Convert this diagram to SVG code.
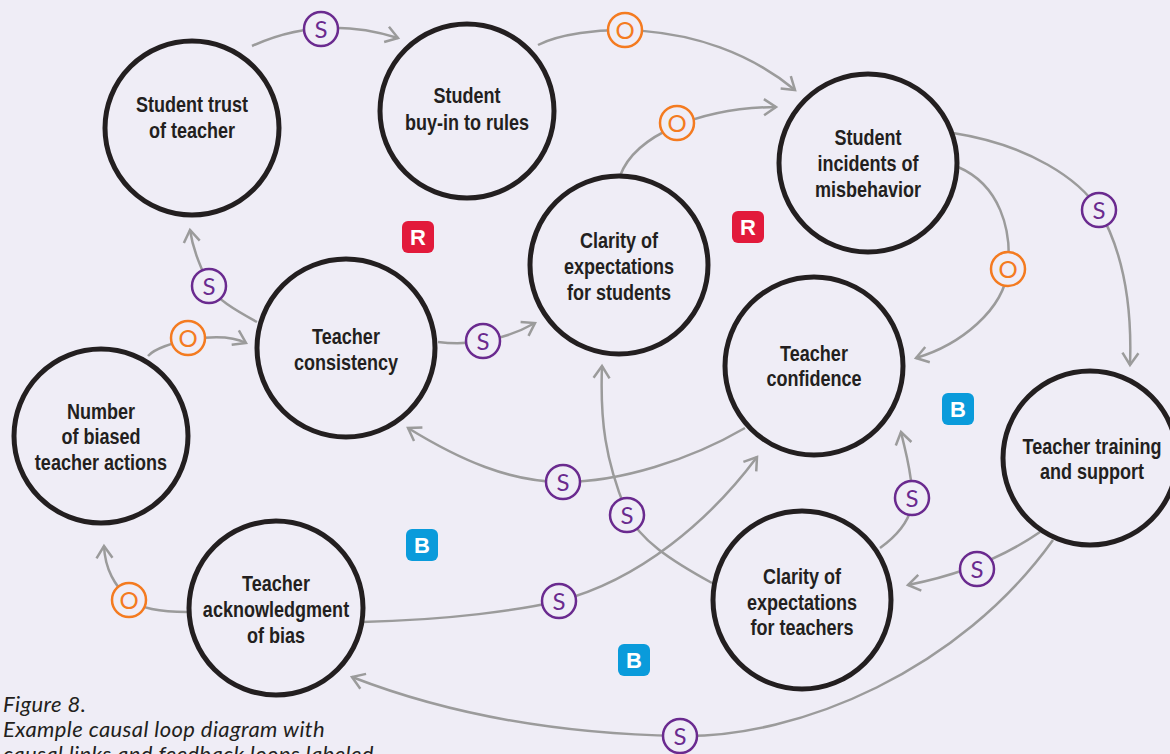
<svg xmlns="http://www.w3.org/2000/svg" width="1170" height="754" viewBox="0 0 1170 754">
<defs>
<style>
.node circle{fill:#efedf6;stroke:#231f20;stroke-width:5}
.node text{font-family:"Liberation Sans",Arial,sans-serif;font-weight:bold;font-size:22px;fill:#231f20;text-anchor:middle}
.link{fill:none;stroke:#9b9b9b;stroke-width:2.5;marker-end:url(#arr)}
.s circle{fill:#efedf6;stroke:#6a2a8f;stroke-width:2.5}
.s text{fill:#6a2a8f}
.o circle{fill:#efedf6;stroke:#f47b20;stroke-width:2.5}
.o text{fill:#f47b20}
.pol text{font-family:Lato,"Open Sans",sans-serif;font-size:24px;font-weight:normal;text-anchor:middle}
.badge text{font-family:"Liberation Sans",Arial,sans-serif;font-weight:bold;font-size:22px;fill:#fff;text-anchor:middle}
.cap{font-family:Lato,"Open Sans",sans-serif;font-style:italic;font-size:22px;letter-spacing:0.4px;fill:#231f20}
</style>
<marker id="arr" markerUnits="userSpaceOnUse" markerWidth="30" markerHeight="30" viewBox="-15 -15 30 30" refX="0" refY="0" orient="auto">
<path d="M-12,-8 L0,0 L-12,8" fill="none" stroke="#9b9b9b" stroke-width="2.5"/>
</marker>
</defs>
<rect width="1170" height="754" fill="#efedf6"/>

<g id="connectors">
<path class="link" d="M252,46 Q322,14 398,38"/>
<path class="link" d="M538,45 C575,26 700,12 795,90"/>
<path class="link" d="M620,176 C635,135 700,108 776,107"/>
<path class="link" d="M958,167 C1000,185 1012,230 1008,269 C1004,310 960,345 916,358"/>
<path class="link" d="M953,133 C1030,145 1080,180 1099,210 C1125,255 1132,310 1130,365"/>
<path class="link" d="M1040,532 Q985,570 908,585"/>
<path class="link" d="M1053,540 C960,670 800,738 680,736 C560,734 450,715 352,677"/>
<path class="link" d="M880,548 C905,530 915,510 912,490 C910,465 905,450 901,432"/>
<path class="link" d="M712,583 C670,560 640,540 627,513 C605,460 600,420 602,366"/>
<path class="link" d="M745,428 C690,460 620,482 563,482 C510,482 460,460 408,428"/>
<path class="link" d="M362,622 C450,620 520,610 559,601 C640,580 710,520 757,457"/>
<path class="link" d="M187,612 C160,612 140,608 129,600 C115,585 105,570 104,546"/>
<path class="link" d="M148,356 C160,342 220,330 246,343"/>
<path class="link" d="M257,322 C235,310 215,298 209,286 C200,265 193,250 190,230"/>
<path class="link" d="M438,342 C470,346 505,340 535,323"/>
</g>

<g id="polarities" class="pol">
<g class="s"><circle cx="321" cy="29" r="17"/><text x="321" y="37.5">S</text></g>
<g class="o"><circle cx="625" cy="30" r="17"/><text x="625" y="38.5">O</text></g>
<g class="o"><circle cx="677" cy="123" r="17"/><text x="677" y="131.5">O</text></g>
<g class="o"><circle cx="1008" cy="269" r="17"/><text x="1008" y="277.5">O</text></g>
<g class="s"><circle cx="1099" cy="210" r="17"/><text x="1099" y="218.5">S</text></g>
<g class="s"><circle cx="977" cy="569" r="17"/><text x="977" y="577.5">S</text></g>
<g class="s"><circle cx="680" cy="736" r="17"/><text x="680" y="744.5">S</text></g>
<g class="s"><circle cx="912" cy="498" r="17"/><text x="912" y="506.5">S</text></g>
<g class="s"><circle cx="627" cy="515" r="17"/><text x="627" y="523.5">S</text></g>
<g class="s"><circle cx="563" cy="482" r="17"/><text x="563" y="490.5">S</text></g>
<g class="s"><circle cx="559" cy="601" r="17"/><text x="559" y="609.5">S</text></g>
<g class="o"><circle cx="129" cy="600" r="17"/><text x="129" y="608.5">O</text></g>
<g class="o"><circle cx="188" cy="338" r="17"/><text x="188" y="346.5">O</text></g>
<g class="s"><circle cx="209" cy="286" r="17"/><text x="209" y="294.5">S</text></g>
<g class="s"><circle cx="483" cy="341" r="17"/><text x="483" y="349.5">S</text></g>
</g>

<g id="loops" class="badge">
<g><rect x="402" y="221" width="32" height="32" rx="6" fill="#e21a3b"/><text x="418" y="245">R</text></g>
<g><rect x="732" y="211" width="32" height="32" rx="6" fill="#e21a3b"/><text x="748" y="235">R</text></g>
<g><rect x="942" y="393" width="32" height="32" rx="6" fill="#0a9bdb"/><text x="958" y="417">B</text></g>
<g><rect x="406" y="529" width="32" height="32" rx="6" fill="#0a9bdb"/><text x="422" y="553">B</text></g>
<g><rect x="618" y="644" width="32" height="32" rx="6" fill="#0a9bdb"/><text x="634" y="668">B</text></g>
</g>

<g id="n-trust" class="node"><circle cx="192" cy="128" r="87"/><text transform="translate(192 112) scale(0.82 1)">Student trust</text><text transform="translate(192 138) scale(0.82 1)">of teacher</text></g>
<g id="n-buyin" class="node"><circle cx="467" cy="111" r="87"/><text transform="translate(467 103) scale(0.82 1)">Student</text><text transform="translate(467 130) scale(0.82 1)">buy-in to rules</text></g>
<g id="n-incidents" class="node"><circle cx="868" cy="163" r="89"/><text transform="translate(868 145) scale(0.82 1)">Student</text><text transform="translate(868 171) scale(0.82 1)">incidents of</text><text transform="translate(868 197) scale(0.82 1)">misbehavior</text></g>
<g id="n-clarity-students" class="node"><circle cx="619" cy="265" r="89"/><text transform="translate(619 248) scale(0.82 1)">Clarity of</text><text transform="translate(619 274) scale(0.82 1)">expectations</text><text transform="translate(619 300) scale(0.82 1)">for students</text></g>
<g id="n-consistency" class="node"><circle cx="346" cy="348" r="89"/><text transform="translate(346 344) scale(0.82 1)">Teacher</text><text transform="translate(346 370) scale(0.82 1)">consistency</text></g>
<g id="n-confidence" class="node"><circle cx="814" cy="366" r="89"/><text transform="translate(814 361) scale(0.82 1)">Teacher</text><text transform="translate(814 386) scale(0.82 1)">confidence</text></g>
<g id="n-biased" class="node"><circle cx="101" cy="436" r="87"/><text transform="translate(101 419) scale(0.82 1)">Number</text><text transform="translate(101 444) scale(0.82 1)">of biased</text><text transform="translate(101 470) scale(0.82 1)">teacher actions</text></g>
<g id="n-ack" class="node"><circle cx="276" cy="608" r="87"/><text transform="translate(276 591) scale(0.82 1)">Teacher</text><text transform="translate(276 617) scale(0.82 1)">acknowledgment</text><text transform="translate(276 643) scale(0.82 1)">of bias</text></g>
<g id="n-clarity-teachers" class="node"><circle cx="802" cy="600" r="89"/><text transform="translate(802 584) scale(0.82 1)">Clarity of</text><text transform="translate(802 610) scale(0.82 1)">expectations</text><text transform="translate(802 635) scale(0.82 1)">for teachers</text></g>
<g id="n-training" class="node"><circle cx="1090" cy="458" r="87"/><text transform="translate(1092 454) scale(0.82 1)">Teacher training</text><text transform="translate(1092 479) scale(0.82 1)">and support</text></g>

<g id="caption">
<text class="cap" x="3" y="712">Figure 8.</text>
<text class="cap" x="3" y="737">Example causal loop diagram with</text>
<text class="cap" x="3" y="762">causal links and feedback loops labeled</text>
</g>
</svg>
